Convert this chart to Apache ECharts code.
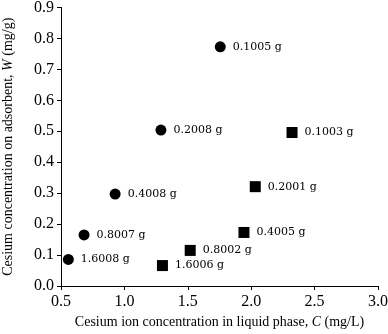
<!DOCTYPE html>
<html>
<head>
<meta charset="utf-8">
<script src="https://cdn.jsdelivr.net/npm/echarts@6/dist/echarts.min.js"></script>
<style>
  html, body { margin: 0; padding: 0; background: #fff; }
  #item { width: 388px; height: 334px; }
</style>
</head>
<body>
<div id="item"></div>
<script>
	var item = echarts.init(document.getElementById('item'));
	/*-- circle series (C, W, adsorbent mass) --*/
	let circleC = [1.756, 1.288, 0.927, 0.682, 0.558];
	let circleW = [0.773, 0.504, 0.297, 0.165, 0.086];
	let circleMass = ['0.1005 g', '0.2008 g', '0.4008 g', '0.8007 g', '1.6008 g'];
	/*-- square series --*/
	let squareC = [2.322, 2.032, 1.943, 1.519, 1.300];
	let squareW = [0.496, 0.321, 0.173, 0.115, 0.066];
	let squareMass = ['0.1003 g', '0.2001 g', '0.4005 g', '0.8002 g', '1.6006 g'];

	let serif = '"Liberation Serif", "Times New Roman", serif';

	function pts(xs, ys, names) {
		return xs.map(function (x, i) {
			return { value: [x, ys[i]], name: names[i] };
		});
	}

	let markLabel = {
		show: true,
		position: 'right',
		distance: 7,
		formatter: '{b}',
		color: '#000',
		fontFamily: '"DejaVu Serif", serif',
		fontSize: 11
	};

	let _item = {
		animation: false,
		grid: { left: 61, right: 10, top: 7.5, bottom: 48, containLabel: false, outerBoundsMode: 'none' },
		xAxis: {
			type: 'value',
			min: 0.5, max: 3.0, interval: 0.5,
			name: 'Cesium ion concentration in liquid phase, {i|C} (mg/L)',
			nameLocation: 'middle',
			nameGap: 26,
			nameTextStyle: {
				color: '#000', fontFamily: serif, fontSize: 14,
				rich: { i: { fontStyle: 'italic', fontFamily: serif, fontSize: 14, color: '#000' } }
			},
			axisLine: { show: true, onZero: false, lineStyle: { color: '#000', width: 1 } },
			axisTick: { show: true, inside: false, length: 4, lineStyle: { color: '#000' } },
			axisLabel: {
				color: '#000', fontFamily: serif, fontSize: 16, margin: 8,
				formatter: function (v) { return v.toFixed(1); }
			},
			splitLine: { show: false }
		},
		yAxis: {
			type: 'value',
			min: 0, max: 0.9, interval: 0.1,
			name: 'Cesium concentration on adsorbent, {i|W} (mg/g)',
			nameLocation: 'middle',
			nameGap: 46,
			nameTextStyle: {
				color: '#000', fontFamily: serif, fontSize: 14,
				rich: { i: { fontStyle: 'italic', fontFamily: serif, fontSize: 14, color: '#000' } }
			},
			axisLine: { show: true, onZero: false, lineStyle: { color: '#000', width: 1 } },
			axisTick: { show: true, inside: false, length: 4, lineStyle: { color: '#000' } },
			axisLabel: {
				color: '#000', fontFamily: serif, fontSize: 16, margin: 7,
				formatter: function (v) { return v.toFixed(1); }
			},
			splitLine: { show: false }
		},
		series: [{
			name: 'circle',
			type: 'scatter',
			symbol: 'circle',
			symbolSize: 11,
			itemStyle: { color: '#000', opacity: 1 },
			label: markLabel,
			data: pts(circleC, circleW, circleMass)
		}, {
			name: 'square',
			type: 'scatter',
			symbol: 'rect',
			symbolSize: 11,
			itemStyle: { color: '#000', opacity: 1 },
			label: markLabel,
			data: pts(squareC, squareW, squareMass)
		}]
	};
	item.setOption(_item);
</script>
</body>
</html>
